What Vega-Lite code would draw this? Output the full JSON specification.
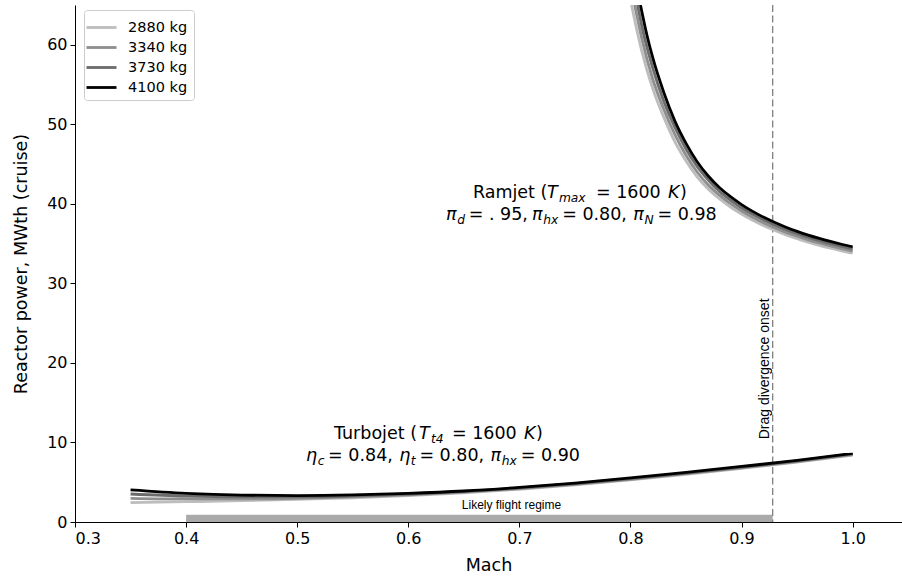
{
  "$schema": "https://vega.github.io/schema/vega-lite/v6.json",
  "width": 827,
  "height": 517,
  "autosize": {"type": "none"},
  "padding": {"left": 75, "top": 5, "right": 0, "bottom": 58},
  "background": "white",
  "config": {
    "view": {"stroke": null},
    "font": "DejaVu Sans",
    "axis": {
      "domainColor": "black", "tickColor": "black", "labelColor": "black", "titleColor": "black",
      "grid": false, "labelFont": "DejaVu Sans", "titleFont": "DejaVu Sans",
      "labelFontSize": 16, "titleFontSize": 17.5, "titleFontWeight": "normal",
      "tickSize": 5, "domainWidth": 1, "tickWidth": 1
    }
  },
  "datasets": {
    "curves": [
      {"engine": "Ramjet", "mass": "2880 kg", "mach": 0.801, "power": 65.0},
      {"engine": "Ramjet", "mass": "2880 kg", "mach": 0.805, "power": 62.3},
      {"engine": "Ramjet", "mass": "2880 kg", "mach": 0.81, "power": 59.3},
      {"engine": "Ramjet", "mass": "2880 kg", "mach": 0.82, "power": 54.5},
      {"engine": "Ramjet", "mass": "2880 kg", "mach": 0.83, "power": 50.9},
      {"engine": "Ramjet", "mass": "2880 kg", "mach": 0.84, "power": 47.8},
      {"engine": "Ramjet", "mass": "2880 kg", "mach": 0.85, "power": 45.4},
      {"engine": "Ramjet", "mass": "2880 kg", "mach": 0.86, "power": 43.4},
      {"engine": "Ramjet", "mass": "2880 kg", "mach": 0.87, "power": 41.86},
      {"engine": "Ramjet", "mass": "2880 kg", "mach": 0.88, "power": 40.64},
      {"engine": "Ramjet", "mass": "2880 kg", "mach": 0.89, "power": 39.6},
      {"engine": "Ramjet", "mass": "2880 kg", "mach": 0.90, "power": 38.71},
      {"engine": "Ramjet", "mass": "2880 kg", "mach": 0.91, "power": 37.93},
      {"engine": "Ramjet", "mass": "2880 kg", "mach": 0.92, "power": 37.24},
      {"engine": "Ramjet", "mass": "2880 kg", "mach": 0.93, "power": 36.64},
      {"engine": "Ramjet", "mass": "2880 kg", "mach": 0.94, "power": 36.1},
      {"engine": "Ramjet", "mass": "2880 kg", "mach": 0.95, "power": 35.62},
      {"engine": "Ramjet", "mass": "2880 kg", "mach": 0.96, "power": 35.18},
      {"engine": "Ramjet", "mass": "2880 kg", "mach": 0.97, "power": 34.79},
      {"engine": "Ramjet", "mass": "2880 kg", "mach": 0.98, "power": 34.43},
      {"engine": "Ramjet", "mass": "2880 kg", "mach": 0.99, "power": 34.1},
      {"engine": "Ramjet", "mass": "2880 kg", "mach": 1.00, "power": 33.8},
      {"engine": "Ramjet", "mass": "3340 kg", "mach": 0.8038, "power": 65.0},
      {"engine": "Ramjet", "mass": "3340 kg", "mach": 0.81, "power": 60.9},
      {"engine": "Ramjet", "mass": "3340 kg", "mach": 0.82, "power": 55.7},
      {"engine": "Ramjet", "mass": "3340 kg", "mach": 0.83, "power": 51.9},
      {"engine": "Ramjet", "mass": "3340 kg", "mach": 0.84, "power": 48.7},
      {"engine": "Ramjet", "mass": "3340 kg", "mach": 0.85, "power": 46.1},
      {"engine": "Ramjet", "mass": "3340 kg", "mach": 0.86, "power": 44.0},
      {"engine": "Ramjet", "mass": "3340 kg", "mach": 0.87, "power": 42.37},
      {"engine": "Ramjet", "mass": "3340 kg", "mach": 0.88, "power": 41.1},
      {"engine": "Ramjet", "mass": "3340 kg", "mach": 0.89, "power": 40.02},
      {"engine": "Ramjet", "mass": "3340 kg", "mach": 0.90, "power": 39.1},
      {"engine": "Ramjet", "mass": "3340 kg", "mach": 0.91, "power": 38.3},
      {"engine": "Ramjet", "mass": "3340 kg", "mach": 0.92, "power": 37.59},
      {"engine": "Ramjet", "mass": "3340 kg", "mach": 0.93, "power": 36.97},
      {"engine": "Ramjet", "mass": "3340 kg", "mach": 0.94, "power": 36.42},
      {"engine": "Ramjet", "mass": "3340 kg", "mach": 0.95, "power": 35.93},
      {"engine": "Ramjet", "mass": "3340 kg", "mach": 0.96, "power": 35.48},
      {"engine": "Ramjet", "mass": "3340 kg", "mach": 0.97, "power": 35.08},
      {"engine": "Ramjet", "mass": "3340 kg", "mach": 0.98, "power": 34.71},
      {"engine": "Ramjet", "mass": "3340 kg", "mach": 0.99, "power": 34.37},
      {"engine": "Ramjet", "mass": "3340 kg", "mach": 1.00, "power": 34.07},
      {"engine": "Ramjet", "mass": "3730 kg", "mach": 0.8064, "power": 65.0},
      {"engine": "Ramjet", "mass": "3730 kg", "mach": 0.81, "power": 62.5},
      {"engine": "Ramjet", "mass": "3730 kg", "mach": 0.82, "power": 57.1},
      {"engine": "Ramjet", "mass": "3730 kg", "mach": 0.83, "power": 52.9},
      {"engine": "Ramjet", "mass": "3730 kg", "mach": 0.84, "power": 49.6},
      {"engine": "Ramjet", "mass": "3730 kg", "mach": 0.85, "power": 46.9},
      {"engine": "Ramjet", "mass": "3730 kg", "mach": 0.86, "power": 44.7},
      {"engine": "Ramjet", "mass": "3730 kg", "mach": 0.87, "power": 43.0},
      {"engine": "Ramjet", "mass": "3730 kg", "mach": 0.88, "power": 41.59},
      {"engine": "Ramjet", "mass": "3730 kg", "mach": 0.89, "power": 40.47},
      {"engine": "Ramjet", "mass": "3730 kg", "mach": 0.90, "power": 39.51},
      {"engine": "Ramjet", "mass": "3730 kg", "mach": 0.91, "power": 38.68},
      {"engine": "Ramjet", "mass": "3730 kg", "mach": 0.92, "power": 37.96},
      {"engine": "Ramjet", "mass": "3730 kg", "mach": 0.93, "power": 37.32},
      {"engine": "Ramjet", "mass": "3730 kg", "mach": 0.94, "power": 36.75},
      {"engine": "Ramjet", "mass": "3730 kg", "mach": 0.95, "power": 36.24},
      {"engine": "Ramjet", "mass": "3730 kg", "mach": 0.96, "power": 35.78},
      {"engine": "Ramjet", "mass": "3730 kg", "mach": 0.97, "power": 35.37},
      {"engine": "Ramjet", "mass": "3730 kg", "mach": 0.98, "power": 34.99},
      {"engine": "Ramjet", "mass": "3730 kg", "mach": 0.99, "power": 34.65},
      {"engine": "Ramjet", "mass": "3730 kg", "mach": 1.00, "power": 34.34},
      {"engine": "Ramjet", "mass": "4100 kg", "mach": 0.809, "power": 65.0},
      {"engine": "Ramjet", "mass": "4100 kg", "mach": 0.815, "power": 61.1},
      {"engine": "Ramjet", "mass": "4100 kg", "mach": 0.82, "power": 58.4},
      {"engine": "Ramjet", "mass": "4100 kg", "mach": 0.83, "power": 54.0},
      {"engine": "Ramjet", "mass": "4100 kg", "mach": 0.84, "power": 50.4},
      {"engine": "Ramjet", "mass": "4100 kg", "mach": 0.85, "power": 47.6},
      {"engine": "Ramjet", "mass": "4100 kg", "mach": 0.86, "power": 45.3},
      {"engine": "Ramjet", "mass": "4100 kg", "mach": 0.87, "power": 43.5},
      {"engine": "Ramjet", "mass": "4100 kg", "mach": 0.88, "power": 42.06},
      {"engine": "Ramjet", "mass": "4100 kg", "mach": 0.89, "power": 40.9},
      {"engine": "Ramjet", "mass": "4100 kg", "mach": 0.90, "power": 39.91},
      {"engine": "Ramjet", "mass": "4100 kg", "mach": 0.91, "power": 39.05},
      {"engine": "Ramjet", "mass": "4100 kg", "mach": 0.92, "power": 38.3},
      {"engine": "Ramjet", "mass": "4100 kg", "mach": 0.93, "power": 37.65},
      {"engine": "Ramjet", "mass": "4100 kg", "mach": 0.94, "power": 37.06},
      {"engine": "Ramjet", "mass": "4100 kg", "mach": 0.95, "power": 36.54},
      {"engine": "Ramjet", "mass": "4100 kg", "mach": 0.96, "power": 36.07},
      {"engine": "Ramjet", "mass": "4100 kg", "mach": 0.97, "power": 35.65},
      {"engine": "Ramjet", "mass": "4100 kg", "mach": 0.98, "power": 35.27},
      {"engine": "Ramjet", "mass": "4100 kg", "mach": 0.99, "power": 34.92},
      {"engine": "Ramjet", "mass": "4100 kg", "mach": 1.00, "power": 34.6},
      {"engine": "Turbojet", "mass": "2880 kg", "mach": 0.35, "power": 2.43},
      {"engine": "Turbojet", "mass": "2880 kg", "mach": 0.40, "power": 2.55},
      {"engine": "Turbojet", "mass": "2880 kg", "mach": 0.45, "power": 2.68},
      {"engine": "Turbojet", "mass": "2880 kg", "mach": 0.50, "power": 2.85},
      {"engine": "Turbojet", "mass": "2880 kg", "mach": 0.55, "power": 3.05},
      {"engine": "Turbojet", "mass": "2880 kg", "mach": 0.60, "power": 3.33},
      {"engine": "Turbojet", "mass": "2880 kg", "mach": 0.65, "power": 3.68},
      {"engine": "Turbojet", "mass": "2880 kg", "mach": 0.70, "power": 4.12},
      {"engine": "Turbojet", "mass": "2880 kg", "mach": 0.75, "power": 4.66},
      {"engine": "Turbojet", "mass": "2880 kg", "mach": 0.80, "power": 5.29},
      {"engine": "Turbojet", "mass": "2880 kg", "mach": 0.85, "power": 5.99},
      {"engine": "Turbojet", "mass": "2880 kg", "mach": 0.90, "power": 6.75},
      {"engine": "Turbojet", "mass": "2880 kg", "mach": 0.95, "power": 7.53},
      {"engine": "Turbojet", "mass": "2880 kg", "mach": 1.00, "power": 8.4},
      {"engine": "Turbojet", "mass": "3340 kg", "mach": 0.35, "power": 2.98},
      {"engine": "Turbojet", "mass": "3340 kg", "mach": 0.40, "power": 2.9},
      {"engine": "Turbojet", "mass": "3340 kg", "mach": 0.45, "power": 2.9},
      {"engine": "Turbojet", "mass": "3340 kg", "mach": 0.50, "power": 2.98},
      {"engine": "Turbojet", "mass": "3340 kg", "mach": 0.55, "power": 3.15},
      {"engine": "Turbojet", "mass": "3340 kg", "mach": 0.60, "power": 3.42},
      {"engine": "Turbojet", "mass": "3340 kg", "mach": 0.65, "power": 3.77},
      {"engine": "Turbojet", "mass": "3340 kg", "mach": 0.70, "power": 4.2},
      {"engine": "Turbojet", "mass": "3340 kg", "mach": 0.75, "power": 4.74},
      {"engine": "Turbojet", "mass": "3340 kg", "mach": 0.80, "power": 5.37},
      {"engine": "Turbojet", "mass": "3340 kg", "mach": 0.85, "power": 6.07},
      {"engine": "Turbojet", "mass": "3340 kg", "mach": 0.90, "power": 6.82},
      {"engine": "Turbojet", "mass": "3340 kg", "mach": 0.95, "power": 7.6},
      {"engine": "Turbojet", "mass": "3340 kg", "mach": 1.00, "power": 8.48},
      {"engine": "Turbojet", "mass": "3730 kg", "mach": 0.35, "power": 3.52},
      {"engine": "Turbojet", "mass": "3730 kg", "mach": 0.40, "power": 3.25},
      {"engine": "Turbojet", "mass": "3730 kg", "mach": 0.45, "power": 3.15},
      {"engine": "Turbojet", "mass": "3730 kg", "mach": 0.50, "power": 3.15},
      {"engine": "Turbojet", "mass": "3730 kg", "mach": 0.55, "power": 3.28},
      {"engine": "Turbojet", "mass": "3730 kg", "mach": 0.60, "power": 3.52},
      {"engine": "Turbojet", "mass": "3730 kg", "mach": 0.65, "power": 3.85},
      {"engine": "Turbojet", "mass": "3730 kg", "mach": 0.70, "power": 4.28},
      {"engine": "Turbojet", "mass": "3730 kg", "mach": 0.75, "power": 4.82},
      {"engine": "Turbojet", "mass": "3730 kg", "mach": 0.80, "power": 5.45},
      {"engine": "Turbojet", "mass": "3730 kg", "mach": 0.85, "power": 6.15},
      {"engine": "Turbojet", "mass": "3730 kg", "mach": 0.90, "power": 6.9},
      {"engine": "Turbojet", "mass": "3730 kg", "mach": 0.95, "power": 7.68},
      {"engine": "Turbojet", "mass": "3730 kg", "mach": 1.00, "power": 8.56},
      {"engine": "Turbojet", "mass": "4100 kg", "mach": 0.35, "power": 4.03},
      {"engine": "Turbojet", "mass": "4100 kg", "mach": 0.40, "power": 3.6},
      {"engine": "Turbojet", "mass": "4100 kg", "mach": 0.45, "power": 3.38},
      {"engine": "Turbojet", "mass": "4100 kg", "mach": 0.50, "power": 3.32},
      {"engine": "Turbojet", "mass": "4100 kg", "mach": 0.55, "power": 3.4},
      {"engine": "Turbojet", "mass": "4100 kg", "mach": 0.60, "power": 3.6},
      {"engine": "Turbojet", "mass": "4100 kg", "mach": 0.65, "power": 3.9},
      {"engine": "Turbojet", "mass": "4100 kg", "mach": 0.70, "power": 4.35},
      {"engine": "Turbojet", "mass": "4100 kg", "mach": 0.75, "power": 4.9},
      {"engine": "Turbojet", "mass": "4100 kg", "mach": 0.80, "power": 5.55},
      {"engine": "Turbojet", "mass": "4100 kg", "mach": 0.85, "power": 6.25},
      {"engine": "Turbojet", "mass": "4100 kg", "mach": 0.90, "power": 6.98},
      {"engine": "Turbojet", "mass": "4100 kg", "mach": 0.95, "power": 7.75},
      {"engine": "Turbojet", "mass": "4100 kg", "mach": 1.00, "power": 8.64}
    ],
    "regime": [{"start": 0.4, "end": 0.928, "low": 0, "high": 0.9}],
    "onset": [{"mach": 0.928}],
    "notes": [
      {"mach": 0.6929, "power": 1.64, "text": "Likely flight regime", "kind": "flat"},
      {"mach": 0.9207, "power": 19.25, "text": "Drag divergence onset", "kind": "vertical"}
    ],
    "labels": [
      {"mach": 0.6582, "power": 40.75, "text": "Ramjet (", "kind": "rm"},
      {"mach": 0.7248, "power": 40.75, "text": "T", "kind": "it"},
      {"mach": 0.7356, "power": 40.75, "text": "max", "kind": "sub"},
      {"mach": 0.7689, "power": 40.75, "text": "= 1600", "kind": "rm"},
      {"mach": 0.8338, "power": 40.75, "text": "K", "kind": "it"},
      {"mach": 0.8446, "power": 40.75, "text": ")", "kind": "rm"},
      {"mach": 0.6339, "power": 37.99, "text": "π", "kind": "it"},
      {"mach": 0.6440, "power": 37.99, "text": "d", "kind": "sub"},
      {"mach": 0.6544, "power": 37.99, "text": "= . 95,", "kind": "rm"},
      {"mach": 0.7113, "power": 37.99, "text": "π", "kind": "it"},
      {"mach": 0.7214, "power": 37.99, "text": "hx", "kind": "sub"},
      {"mach": 0.7385, "power": 37.99, "text": "= 0.80,", "kind": "rm"},
      {"mach": 0.8026, "power": 37.99, "text": "π", "kind": "it"},
      {"mach": 0.8127, "power": 37.99, "text": "N", "kind": "sub"},
      {"mach": 0.8243, "power": 37.99, "text": "= 0.98", "kind": "rm"},
      {"mach": 0.5331, "power": 10.44, "text": "Turbojet (", "kind": "rm"},
      {"mach": 0.6096, "power": 10.44, "text": "T", "kind": "it"},
      {"mach": 0.6204, "power": 10.44, "text": "t4", "kind": "sub"},
      {"mach": 0.6393, "power": 10.44, "text": "= 1600", "kind": "rm"},
      {"mach": 0.7041, "power": 10.44, "text": "K", "kind": "it"},
      {"mach": 0.7149, "power": 10.44, "text": ")", "kind": "rm"},
      {"mach": 0.5079, "power": 7.67, "text": "η", "kind": "it"},
      {"mach": 0.5184, "power": 7.67, "text": "c", "kind": "sub"},
      {"mach": 0.5278, "power": 7.67, "text": "= 0.84,", "kind": "rm"},
      {"mach": 0.5919, "power": 7.67, "text": "η", "kind": "it"},
      {"mach": 0.6023, "power": 7.67, "text": "t", "kind": "sub"},
      {"mach": 0.6100, "power": 7.67, "text": "= 0.80,", "kind": "rm"},
      {"mach": 0.6741, "power": 7.67, "text": "π", "kind": "it"},
      {"mach": 0.6842, "power": 7.67, "text": "hx", "kind": "sub"},
      {"mach": 0.7012, "power": 7.67, "text": "= 0.90", "kind": "rm"}
    ]
  },
  "layer": [
    {
      "data": {"name": "regime"},
      "mark": {"type": "rect", "color": "#aaaaaa"},
      "encoding": {
        "x": {"field": "start", "type": "quantitative", "scale": {"domain": [0.3, 1.0444], "nice": false, "zero": false},
              "axis": {"values": [0.3, 0.4, 0.5, 0.6, 0.7, 0.8, 0.9, 1.0], "format": ".1f", "labelPadding": 3, "titlePadding": 10}, "title": "Mach"},
        "x2": {"field": "end"},
        "y": {"field": "low", "type": "quantitative", "scale": {"domain": [0, 65], "nice": false},
              "axis": {"values": [0, 10, 20, 30, 40, 50, 60], "labelPadding": 3, "titlePadding": 16}, "title": "Reactor power, MWth (cruise)"},
        "y2": {"field": "high"}
      }
    },
    {
      "mark": {"type": "rule", "color": "black", "strokeWidth": 1},
      "encoding": {"y": {"datum": 65, "type": "quantitative", "title": "Reactor power, MWth (cruise)"}}
    },
    {
      "data": {"name": "onset"},
      "mark": {"type": "rule", "color": "#808080", "strokeWidth": 1.3, "strokeDash": [7, 3.5]},
      "encoding": {"x": {"field": "mach", "type": "quantitative", "title": "Mach"}}
    },
    {
      "data": {"name": "curves"},
      "mark": {"type": "line", "interpolate": "monotone", "strokeWidth": 2.8, "clip": true},
      "encoding": {
        "x": {"field": "mach", "type": "quantitative", "title": "Mach"},
        "y": {"field": "power", "type": "quantitative", "title": "Reactor power, MWth (cruise)"},
        "detail": {"field": "engine"},
        "color": {
          "field": "mass", "type": "nominal",
          "scale": {"domain": ["2880 kg", "3340 kg", "3730 kg", "4100 kg"], "range": ["#bdbdbd", "#8e8e8e", "#6b6b6b", "#000000"]},
          "legend": {
            "title": null, "orient": "none", "legendX": 9, "legendY": 5,
            "strokeColor": "#cccccc", "fillColor": "white", "padding": 6, "cornerRadius": 3,
            "symbolType": "M-1.5,0H1.5", "symbolSize": 400, "symbolStrokeWidth": 2.8,
            "labelFontSize": 14.5, "labelFont": "DejaVu Sans", "labelColor": "black",
            "rowPadding": 2, "labelOffset": 15
          }
        }
      }
    },
    {
      "data": {"name": "labels"},
      "transform": [{"filter": "datum.kind === 'rm'"}],
      "mark": {"type": "text", "align": "left", "baseline": "alphabetic", "font": "DejaVu Sans", "fontSize": 17.5, "color": "black"},
      "encoding": {
        "x": {"field": "mach", "type": "quantitative", "title": "Mach"},
        "y": {"field": "power", "type": "quantitative", "title": "Reactor power, MWth (cruise)"},
        "text": {"field": "text"}
      }
    },
    {
      "data": {"name": "labels"},
      "transform": [{"filter": "datum.kind === 'it'"}],
      "mark": {"type": "text", "align": "left", "baseline": "alphabetic", "font": "DejaVu Sans", "fontStyle": "italic", "fontSize": 17.5, "color": "black"},
      "encoding": {
        "x": {"field": "mach", "type": "quantitative", "title": "Mach"},
        "y": {"field": "power", "type": "quantitative", "title": "Reactor power, MWth (cruise)"},
        "text": {"field": "text"}
      }
    },
    {
      "data": {"name": "labels"},
      "transform": [{"filter": "datum.kind === 'sub'"}],
      "mark": {"type": "text", "align": "left", "baseline": "alphabetic", "font": "DejaVu Sans", "fontStyle": "italic", "fontSize": 12.25, "dy": 4, "color": "black"},
      "encoding": {
        "x": {"field": "mach", "type": "quantitative", "title": "Mach"},
        "y": {"field": "power", "type": "quantitative", "title": "Reactor power, MWth (cruise)"},
        "text": {"field": "text"}
      }
    },
    {
      "data": {"name": "notes"},
      "transform": [{"filter": "datum.kind === 'flat'"}],
      "mark": {"type": "text", "align": "center", "baseline": "alphabetic", "font": "Liberation Sans", "fontSize": 12, "color": "black"},
      "encoding": {
        "x": {"field": "mach", "type": "quantitative", "title": "Mach"},
        "y": {"field": "power", "type": "quantitative", "title": "Reactor power, MWth (cruise)"},
        "text": {"field": "text"}
      }
    },
    {
      "data": {"name": "notes"},
      "transform": [{"filter": "datum.kind === 'vertical'"}],
      "mark": {"type": "text", "align": "center", "baseline": "middle", "angle": 270, "font": "Liberation Sans", "fontSize": 14, "color": "black"},
      "encoding": {
        "x": {"field": "mach", "type": "quantitative", "title": "Mach"},
        "y": {"field": "power", "type": "quantitative", "title": "Reactor power, MWth (cruise)"},
        "text": {"field": "text"}
      }
    }
  ]
}
